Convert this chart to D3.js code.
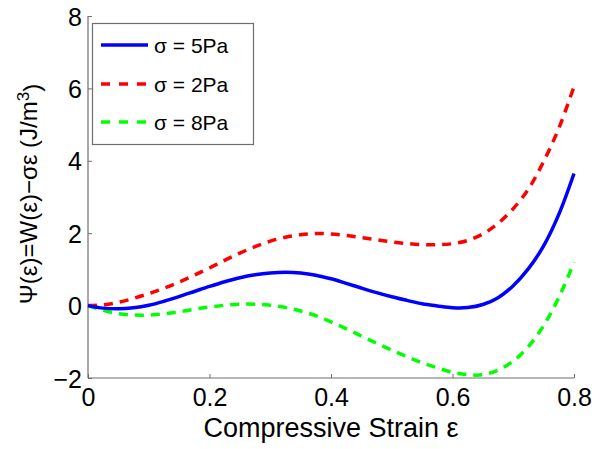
<!DOCTYPE html>
<html>
<head>
<meta charset="utf-8">
<script src="https://cdn.jsdelivr.net/npm/d3@7"></script>
<style>
  html, body { margin: 0; padding: 0; background: #fff; }
  svg { display: block; font-family: "Liberation Sans", Arial, Helvetica, sans-serif; }
</style>
</head>
<body>
<svg id="chart" width="600" height="449"></svg>
<script>
// ---- data ----
const strain = [0, 0.025, 0.05, 0.075, 0.1, 0.125, 0.15, 0.175, 0.2, 0.225, 0.25, 0.275, 0.3, 0.325, 0.35, 0.375, 0.4, 0.425, 0.45, 0.475, 0.5, 0.525, 0.55, 0.575, 0.6, 0.625, 0.65, 0.675, 0.7, 0.725, 0.75, 0.775, 0.8];
const psiSigma5 = [0, -0.07, -0.09, -0.06, 0.01, 0.12, 0.25, 0.39, 0.53, 0.66, 0.77, 0.85, 0.90, 0.92, 0.90, 0.84, 0.74, 0.615, 0.485, 0.36, 0.245, 0.145, 0.05, -0.01, -0.06, -0.055, 0.03, 0.22, 0.55, 1.02, 1.65, 2.52, 3.65];
const psiSigma2 = [0, 0.02, 0.09, 0.20, 0.33, 0.48, 0.65, 0.84, 1.04, 1.25, 1.45, 1.63, 1.78, 1.89, 1.96, 1.99, 1.98, 1.94, 1.88, 1.82, 1.76, 1.715, 1.685, 1.68, 1.71, 1.80, 1.98, 2.27, 2.68, 3.22, 3.98, 4.90, 6.05];
const psiSigma8 = [0, -0.13, -0.22, -0.26, -0.26, -0.23, -0.17, -0.10, -0.04, 0.01, 0.04, 0.04, 0.01, -0.05, -0.15, -0.28, -0.45, -0.64, -0.84, -1.04, -1.23, -1.41, -1.58, -1.72, -1.84, -1.91, -1.91, -1.78, -1.53, -1.13, -0.55, 0.22, 1.20];
const seriesNames = ["\u03c3 = 5Pa", "\u03c3 = 2Pa", "\u03c3 = 8Pa"];
const xTicks = [0, 0.2, 0.4, 0.6, 0.8];
const yTicks = [-2, 0, 2, 4, 6, 8];
const xLabel = "Compressive Strain \u03b5";
const yLabel = "\u03a8(\u03b5)=W(\u03b5)\u2212\u03c3\u03b5 (J/m";

// ---- layout ----
const svg = d3.select("#chart");
const mLeft = 88, mRight = 574, mTop = 16, mBottom = 378;
const x = d3.scaleLinear().domain([0, 0.8]).range([mLeft, mRight]);
const y = d3.scaleLinear().domain([-2, 8]).range([mBottom, mTop]);
const axisColor = "#6e6e6e";

// axes
const xAxis = d3.axisBottom(x).tickValues(xTicks).tickSize(-4).tickFormat(d => d === 0 ? "0" : d3.format(".1f")(d));
const yAxis = d3.axisLeft(y).tickValues(yTicks).tickSize(-4).tickFormat(d => d < 0 ? "\u2212" + Math.abs(d) : String(d));

const gx = svg.append("g").attr("transform", `translate(0,${mBottom})`).call(xAxis);
gx.select(".domain").attr("stroke", axisColor).attr("stroke-width", 1.2).attr("d", `M${mLeft},0H${mRight}`);
gx.selectAll(".tick line").attr("stroke", axisColor);
gx.selectAll(".tick text").attr("fill", "#000").attr("font-size", 25).attr("y", 10).attr("dy", "0.71em");

const gy = svg.append("g").attr("transform", `translate(${mLeft},0)`).call(yAxis);
gy.select(".domain").attr("stroke", axisColor).attr("stroke-width", 1.2).attr("d", `M0,${mBottom}V${mTop}`);
gy.selectAll(".tick line").attr("stroke", axisColor);
gy.selectAll(".tick text").attr("fill", "#000").attr("font-size", 25).attr("x", -6).attr("dy", "0.36em");

// lines
const pts = arr => strain.map((s, i) => [s, arr[i]]);
const line = d3.line().x(d => x(d[0])).y(d => y(d[1])).curve(d3.curveCatmullRom.alpha(0.5));
const styles = [
  { data: psiSigma5, color: "#0000ff", dash: null },
  { data: psiSigma2, color: "#ff0000", dash: "9,7" },
  { data: psiSigma8, color: "#00ff00", dash: "9,7" }
];
[2, 1, 0].forEach(i => {
  const s = styles[i];
  svg.append("path").datum(pts(s.data))
    .attr("d", line).attr("fill", "none")
    .attr("stroke", s.color).attr("stroke-width", 3.5)
    .attr("stroke-dasharray", s.dash);
});

// legend
const lg = svg.append("g");
lg.append("rect").attr("x", 92.5).attr("y", 23.5).attr("width", 161).attr("height", 121)
  .attr("fill", "#fff").attr("stroke", axisColor).attr("stroke-width", 1.2);
const legendY = [45, 84, 122];
styles.forEach((s, i) => {
  lg.append("line").attr("x1", 101).attr("x2", 148).attr("y1", legendY[i]).attr("y2", legendY[i])
    .attr("stroke", s.color).attr("stroke-width", 3.5).attr("stroke-dasharray", s.dash ? "9,9" : null);
  lg.append("text").attr("x", 154).attr("y", legendY[i]).attr("dy", "0.36em")
    .attr("font-size", 21).attr("fill", "#000").text(seriesNames[i]);
});

// axis labels
svg.append("text").attr("x", (mLeft + mRight) / 2).attr("y", 437).attr("text-anchor", "middle")
  .attr("font-size", 27).attr("fill", "#000").text(xLabel);
const yl = svg.append("text").attr("transform", `translate(37,194) rotate(-90)`)
  .attr("text-anchor", "middle").attr("font-size", 24).attr("fill", "#000");
yl.append("tspan").text(yLabel);
yl.append("tspan").attr("dy", "-0.45em").attr("font-size", 17).text("3");
yl.append("tspan").attr("dy", "0.45em").text(")");
</script>
</body>
</html>
